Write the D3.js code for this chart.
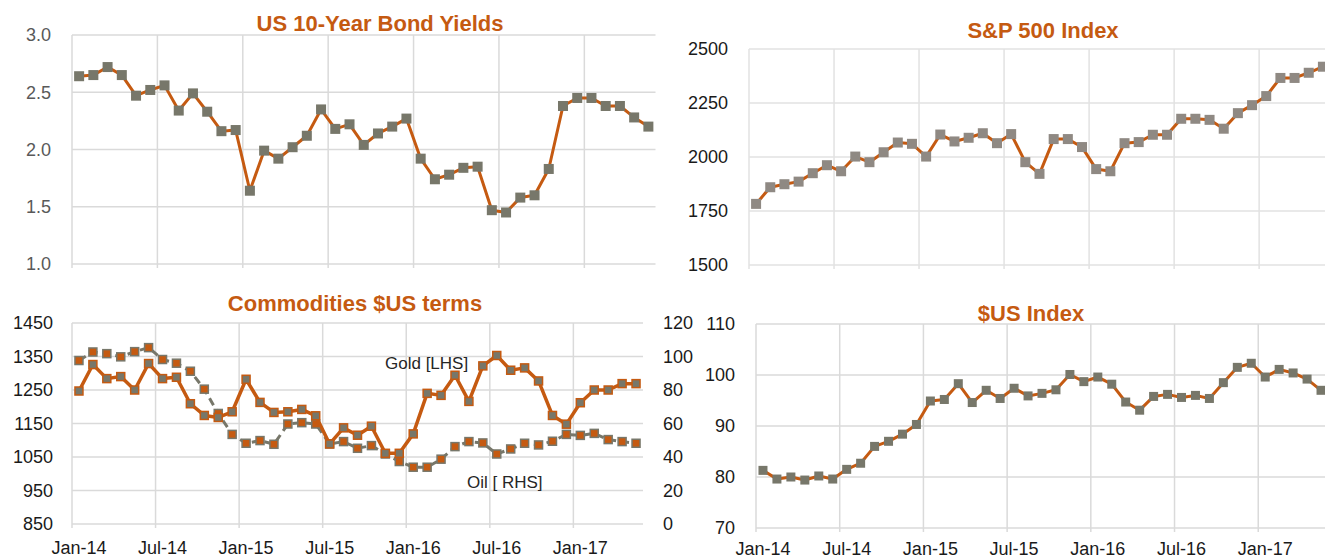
<!DOCTYPE html>
<html>
<head>
<meta charset="utf-8">
<script src="https://cdn.jsdelivr.net/npm/d3@7"></script>
<style>
  body { margin: 0; background: #fff; }
  svg { display: block; font-family: "Liberation Sans", Arial, sans-serif; }
</style>
</head>
<body>
<svg id="chart" width="1325" height="560"></svg>
<script>
// mjeseci (kategorije)
const months = [
  "Jan-14","Feb-14","Mar-14","Apr-14","May-14","Jun-14","Jul-14","Aug-14","Sep-14","Oct-14","Nov-14","Dec-14",
  "Jan-15","Feb-15","Mar-15","Apr-15","May-15","Jun-15","Jul-15","Aug-15","Sep-15","Oct-15","Nov-15","Dec-15",
  "Jan-16","Feb-16","Mar-16","Apr-16","May-16","Jun-16","Jul-16","Aug-16","Sep-16","Oct-16","Nov-16","Dec-16",
  "Jan-17","Feb-17","Mar-17","Apr-17","May-17"
];
const xTicks = ["Jan-14","Jul-14","Jan-15","Jul-15","Jan-16","Jul-16","Jan-17"];

// serije
const bondYields = [2.64,2.65,2.72,2.65,2.47,2.52,2.56,2.34,2.49,2.33,2.16,2.17,
  1.64,1.99,1.92,2.02,2.12,2.35,2.18,2.22,2.04,2.14,2.20,2.27,
  1.92,1.74,1.78,1.84,1.85,1.47,1.45,1.58,1.60,1.83,2.38,2.45,
  2.45,2.38,2.38,2.28,2.20];
const sp500 = [1783,1860,1874,1886,1925,1962,1934,2002,1976,2022,2067,2061,
  2002,2104,2072,2089,2110,2064,2106,1976,1922,2083,2083,2046,
  1944,1934,2064,2069,2103,2103,2177,2177,2172,2131,2203,2240,
  2282,2366,2366,2390,2418];
const gold = [1247,1326,1284,1290,1250,1329,1284,1288,1209,1174,1168,1185,
  1282,1213,1183,1185,1192,1173,1089,1137,1115,1142,1061,1061,
  1119,1240,1234,1294,1216,1322,1353,1309,1316,1277,1174,1148,
  1212,1250,1250,1269,1269];
const oil = [97.6,102.7,101.7,99.8,102.9,105.3,98.2,96.0,91.2,80.5,66.0,53.5,
  48.2,49.8,47.6,59.7,60.5,59.7,47.8,49.2,45.2,46.8,41.8,37.3,
  33.9,33.9,38.7,46.2,49.2,48.4,41.8,44.8,48.2,47.2,49.4,53.5,
  52.9,54.1,50.4,49.2,48.2];
const usdIndex = [81.3,79.6,80.0,79.4,80.2,79.6,81.5,82.7,86.0,87.0,88.4,90.3,
  94.9,95.2,98.3,94.6,97.0,95.4,97.4,95.9,96.4,97.1,100.1,98.7,
  99.6,98.2,94.7,93.1,95.8,96.2,95.6,96.0,95.4,98.5,101.5,102.3,
  99.6,101.1,100.4,99.2,97.0];

// osi (tickovi)
const bondTicks = [1.0,1.5,2.0,2.5,3.0];
const spTicks = [1500,1750,2000,2250,2500];
const goldTicks = [850,950,1050,1150,1250,1350,1450];
const oilTicks = [0,20,40,60,80,100,120];
const usdTicks = [70,80,90,100,110];

const orange = "#C55A11";
const gridColor = "#DADADA";
const svg = d3.select("#chart");

function panel(cfg) {
  const g = svg.append("g");
  const x = d3.scaleBand().domain(months).range([cfg.x0, cfg.x1]).padding(0);
  const y = d3.scaleLinear().domain(cfg.yDomain).range([cfg.yBot, cfg.yTop]);

  // horizontalne linije mreže
  g.selectAll(".hgrid").data(cfg.yTicks).enter().append("line")
    .attr("x1", cfg.x0).attr("x2", cfg.gridRight || cfg.x1)
    .attr("y1", d => y(d)).attr("y2", d => y(d))
    .attr("stroke", cfg.grid || gridColor).attr("stroke-width", 1.5);

  // vertikalne linije mreže (Jan / Jul)
  g.selectAll(".vgrid").data(xTicks).enter().append("line")
    .attr("x1", d => x(d)).attr("x2", d => x(d))
    .attr("y1", cfg.yTop).attr("y2", cfg.yBot + 4)
    .attr("stroke", cfg.grid || gridColor).attr("stroke-width", 1.5);

  // lijeva os
  const ya = g.append("g")
    .attr("transform", `translate(${cfg.labelX},0)`)
    .call(d3.axisLeft(y).tickValues(cfg.yTicks).tickSize(0).tickPadding(0).tickFormat(cfg.yFmt || d3.format("d")));
  ya.select(".domain").remove();
  ya.selectAll("text").style("font-size", "18px").style("fill", cfg.labelColor || "#1a1a1a")
    .style("font-family", "'Liberation Sans', Arial, sans-serif");

  // x os
  if (cfg.xLabelY) {
    const xa = g.append("g")
      .attr("transform", `translate(0,${cfg.xLabelY})`)
      .call(d3.axisBottom(x).tickValues(xTicks).tickSize(0).tickPadding(0));
    xa.select(".domain").remove();
    xa.selectAll("text").style("font-size", "18px").style("fill", "#1a1a1a")
      .style("font-family", "'Liberation Sans', Arial, sans-serif");
  }

  // naslov
  g.append("text")
    .attr("x", cfg.titleX).attr("y", cfg.titleY)
    .attr("text-anchor", "middle")
    .style("font-size", "22px").style("font-weight", "bold")
    .style("fill", orange)
    .text(cfg.title);

  return { g, x, y };
}

function series(p, yScale, values, o) {
  const cx = (d, i) => p.x(months[i]) + p.x.bandwidth() / 2;
  const line = d3.line().x(cx).y(d => yScale(d));
  p.g.append("path")
    .datum(values)
    .attr("d", line)
    .attr("fill", "none")
    .attr("stroke", o.line)
    .attr("stroke-width", o.width || 3)
    .attr("stroke-dasharray", o.dash || null)
    .attr("stroke-linejoin", "round");
  const s = o.size;
  p.g.selectAll(null).data(values).enter().append("rect")
    .attr("x", (d, i) => cx(d, i) - s / 2)
    .attr("y", d => yScale(d) - s / 2)
    .attr("width", s).attr("height", s)
    .attr("fill", o.marker)
    .attr("stroke", o.markerStroke || "none")
    .attr("stroke-width", o.markerStroke ? 1.5 : 0);
}

// 1) US 10-Year Bond Yields
const p1 = panel({
  title: "US 10-Year Bond Yields", titleX: 380, titleY: 31,
  x0: 72, x1: 655.5, yTop: 35, yBot: 264, yDomain: [1, 3],
  yTicks: bondTicks, yFmt: d3.format(".1f"), labelX: 51, labelColor: "#595959"
});
series(p1, p1.y, bondYields, { line: orange, marker: "#77776A", size: 10 });

// 2) S&P 500 Index
const p2 = panel({
  title: "S&P 500 Index", titleX: 1043, titleY: 38,
  x0: 749, x1: 1330, yTop: 49, yBot: 265, yDomain: [1500, 2500],
  yTicks: spTicks, labelX: 728, grid: "#E2E2E2"
});
series(p2, p2.y, sp500, { line: orange, marker: "#8F8983", size: 10 });

// 3) Commodities $US terms
const p3 = panel({
  title: "Commodities $US terms", titleX: 355, titleY: 311,
  x0: 72, x1: 643, yTop: 323, yBot: 524, yDomain: [850, 1450],
  yTicks: goldTicks, labelX: 53, xLabelY: 541
});
const yOil = d3.scaleLinear().domain([0, 120]).range([524, 323]);
const ra = p3.g.append("g")
  .attr("transform", "translate(663,0)")
  .call(d3.axisRight(yOil).tickValues(oilTicks).tickSize(0).tickPadding(0));
ra.select(".domain").remove();
ra.selectAll("text").style("font-size", "18px").style("fill", "#1a1a1a");

series(p3, yOil, oil, { line: "#77776A", dash: "8,5", marker: orange, markerStroke: "#77776A", size: 8, width: 3 });
series(p3, p3.y, gold, { line: orange, marker: "#77776A", markerStroke: orange, size: 8, width: 3.5 });

p3.g.append("text").attr("x", 385).attr("y", 369)
  .style("font-size", "17px").style("fill", "#262626").text("Gold [LHS]");
p3.g.append("text").attr("x", 467).attr("y", 488)
  .style("font-size", "17px").style("fill", "#262626").text("Oil [ RHS]");

// 4) $US Index
const p4 = panel({
  title: "$US Index", titleX: 1031, titleY: 321,
  x0: 756, x1: 1328, yTop: 324, yBot: 528, yDomain: [70, 110],
  yTicks: usdTicks, labelX: 735, xLabelY: 542
});
series(p4, p4.y, usdIndex, { line: orange, marker: "#77776A", size: 9 });
</script>
</body>
</html>
